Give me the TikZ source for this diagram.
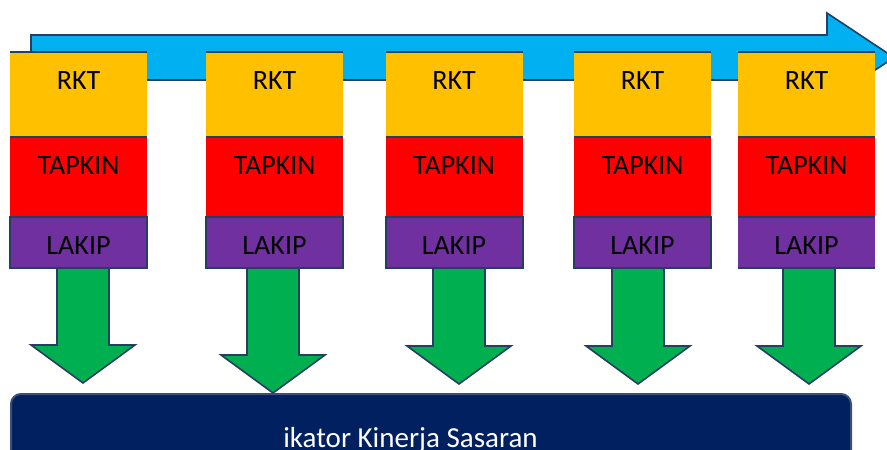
\documentclass[tikz,border=0pt]{standalone}
\usepackage{fontspec}
\setmainfont{Carlito}
\usepackage{tikz}
\usetikzlibrary{positioning}
\definecolor{myorange}{HTML}{FFC000}
\definecolor{myred}{HTML}{FF0000}
\definecolor{mypurple}{HTML}{7030A0}
\definecolor{mygreen}{HTML}{00B050}
\definecolor{myblue}{HTML}{00B0F0}
\definecolor{mynavy}{HTML}{002060}
\definecolor{myedge}{HTML}{243F60}
\definecolor{mygray}{HTML}{3C4F75}
\tikzset{
  layer/.style={inner sep=0pt, outer sep=0pt, minimum width=137pt, text height=37pt, font=\fontsize{28}{32}\selectfont},
  rkt/.style={layer, fill=myorange, text depth=48pt},
  tapkin/.style={layer, fill=myred, text depth=43pt},
  lakip/.style={layer, fill=mypurple, text depth=14pt},
  edge/.style={myedge, line width=2pt},
  down/.style={fill=mygreen, draw=myedge, line width=1.6pt, line join=miter},
}

\begin{document}
\begin{tikzpicture}[x=1pt, y=-1pt]
    \useasboundingbox (0,0) rectangle (887,450);
    \clip (0,0) rectangle (887,450);

    % time line
    \draw[fill=myblue, draw=myedge, line width=1.6pt] (31,35) -- (827,35) -- (827,13) -- (894,57.5) -- (827,102) -- (827,80) -- (31,80) -- cycle;

    % target
    \node[draw=mygray, fill=mynavy, line width=2pt, rounded corners=10pt, minimum width=840pt, minimum height=90pt, anchor=north west] (goal) at (10,393) {};
    \node[anchor=base, text=white, font=\fontsize{29}{32}\selectfont] (goallabel) at (410.5,447) {ikator Kinerja Sasaran};

    % columns
    \foreach \i/\cx/\ax/\ty in {1/78.5/83/383, 2/274.5/273/393, 3/454/459/384, 4/642.5/638/384, 5/806.5/809/384}{
        \node[rkt] (rkt\i) at (\cx,94.5) {RKT};
        \node[tapkin, below=0pt of rkt\i] (tapkin\i) {TAPKIN};
        \node[lakip, below=0pt of tapkin\i] (lakip\i) {LAKIP};
        \coordinate (tip\i) at (\ax,\ty);
        \filldraw[down] ([xshift=-26pt]lakip\i.south -| tip\i) |- ([xshift=-26pt,yshift=38pt]tip\i) -- ++(-26,0) -- (tip\i) -- ++(52,-38) -- ++(-26,0) |- ([xshift=26pt]lakip\i.south -| tip\i);
        \draw[edge] (rkt\i.north west) -- (rkt\i.north east);
        \draw[edge] (rkt\i.south west) -- (rkt\i.south east);
        \ifnum\i<5
            \draw[edge] (lakip\i.north west) rectangle (lakip\i.south east);
        \else
            \draw[edge] (lakip\i.north west) -- (lakip\i.north east);
            \draw[edge] (lakip\i.south west) -- (lakip\i.south east);
        \fi
    }
\end{tikzpicture}
\end{document}
